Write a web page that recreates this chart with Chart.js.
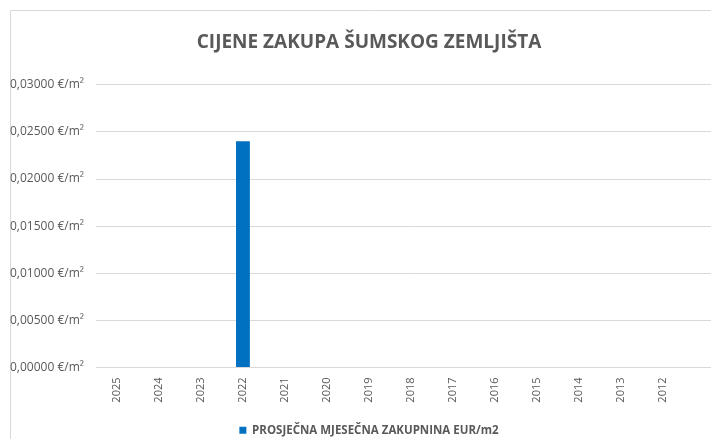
<!DOCTYPE html>
<html>
<head>
<meta charset="utf-8">
<title>Cijene zakupa šumskog zemljišta</title>
<script src="https://cdn.jsdelivr.net/npm/chart.js@4.4.1/dist/chart.umd.min.js"></script>
<style>
  html, body { margin: 0; padding: 0; background: #fff; overflow: hidden; }
  #wrap { position: relative; width: 728px; height: 439px; }
</style>
</head>
<body>
<div id="wrap"><canvas id="canvasZakup" width="728" height="439"></canvas></div>
<script>
// godine (zadnja kategorija je prazna, graf se nastavlja desno)
var godine = ['2025', '2024', '2023', '2022', '2021', '2020', '2019', '2018', '2017', '2016', '2015', '2014', '2013', '2012', ''];
// prosjecna mjesecna zakupnina EUR/m2
var zakupnina = [null, null, null, 0.024, null, null, null, null, null, null, null, null, null, null, null];
var yMin = 0;
var yMax = 0.03;
var yKorak = 0.005;

var siva = '#595959';
var linija = '#d9d9d9';

// okvir grafa (lijevo i gore)
var okvir = {
	id: 'okvir',
	beforeDraw: function(chart){
		var ctx = chart.ctx;
		ctx.save();
		ctx.strokeStyle = linija;
		ctx.lineWidth = 1;
		ctx.beginPath();
		ctx.moveTo(10.5, chart.height);
		ctx.lineTo(10.5, 10.5);
		ctx.lineTo(chart.width, 10.5);
		ctx.stroke();
		ctx.restore();
	}
};

function formatEur(v){
	return v.toFixed(5).replace('.', ',') + ' €/m²';
}

var ctx = document.getElementById('canvasZakup').getContext('2d');
window.myBar = new Chart(ctx, {
	type: 'bar',
	data: {
		labels: godine,
		datasets: [{
			label: 'PROSJEČNA MJESEČNA ZAKUPNINA EUR/m2',
			data: zakupnina,
			backgroundColor: '#0070C0',
			borderWidth: 0,
			barPercentage: 0.33,
			categoryPercentage: 1
		}]
	},
	options: {
		responsive: false,
		animation: false,
		// legenda ide malo nize, do samog ruba
		layout: { padding: { left: 10, top: 0, right: 0, bottom: -7 } },
		plugins: {
			title: {
				display: true,
				text: 'CIJENE ZAKUPA ŠUMSKOG ZEMLJIŠTA',
				color: siva,
				font: { family: 'Open Sans', size: 19, weight: 'bold' },
				padding: { top: 31, bottom: 31 }
			},
			legend: {
				position: 'bottom',
				labels: {
					color: siva,
					font: { family: 'Open Sans', size: 11.5, weight: 'bold' },
					boxWidth: 7,
					boxHeight: 7,
					padding: 4
				}
			},
			tooltip: { enabled: false }
		},
		scales: {
			x: {
				grid: { display: false, drawTicks: false },
				border: { display: true, color: linija },
				ticks: {
					color: siva,
					font: { family: 'Open Sans', size: 11 },
					maxRotation: 90,
					minRotation: 90,
					padding: 10,
					autoSkip: false
				},
				afterFit: function(scale){ scale.height = 53; }
			},
			y: {
				min: yMin,
				max: yMax,
				grid: { color: linija, drawTicks: false },
				border: { display: false },
				ticks: {
					stepSize: yKorak,
					color: siva,
					font: { family: 'Open Sans', size: 12 },
					padding: 12,
					crossAlign: 'far',
					callback: function(v){ return formatEur(v); }
				},
				afterFit: function(scale){ scale.width = 86; }
			}
		}
	},
	plugins: [okvir]
});
</script>
</body>
</html>
